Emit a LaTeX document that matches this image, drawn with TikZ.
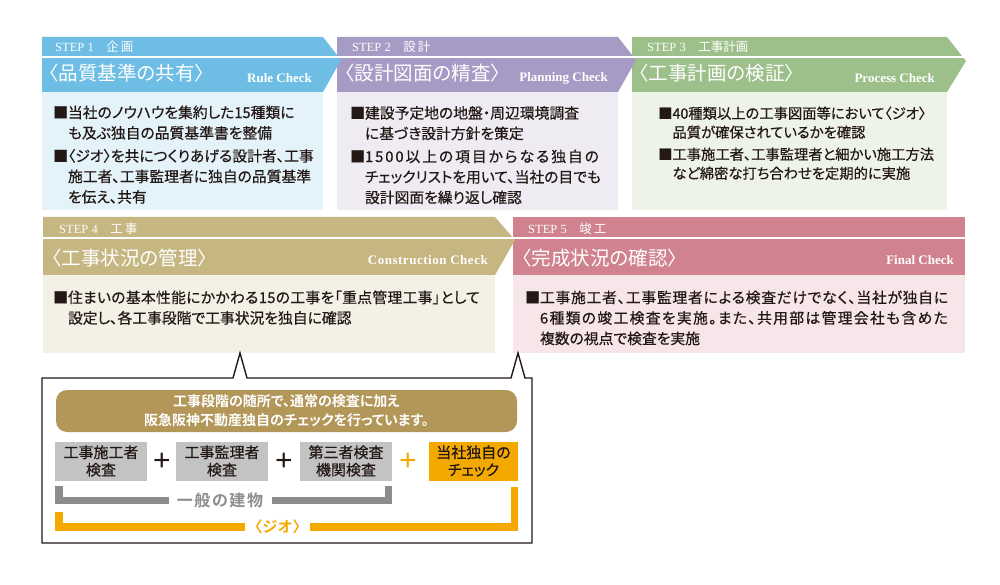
\documentclass[tikz,border=0pt]{standalone}
\usepackage{fontspec}
\newfontfamily\jp[RawFeature=+palt,BoldFont={Noto Sans CJK JP Bold}]{Noto Sans CJK JP}
\newfontfamily\jpbody[RawFeature=+palt,FakeBold=0.5]{Noto Sans CJK JP}
\newfontfamily\jpw[BoldFont={Noto Sans CJK JP Bold}]{Noto Sans CJK JP}
\newfontfamily\lser{Liberation Serif}
\newfontfamily\lsans{Liberation Sans}
\newcommand\bulind{\phantom{■}}
\newcommand\fstrut{\rule{0pt}{0.9em}}
\newcommand\spc[2]{{\addfontfeature{LetterSpace=#1}#2}}
\definecolor{hA}{HTML}{6DBDE4}\definecolor{bA}{HTML}{E4F2FA}
\definecolor{hB}{HTML}{A69BC5}\definecolor{bB}{HTML}{EEEBF3}
\definecolor{hC}{HTML}{9DC08A}\definecolor{bC}{HTML}{EEF3E8}
\definecolor{hD}{HTML}{C6B681}\definecolor{bD}{HTML}{F3F0E5}
\definecolor{hE}{HTML}{D0838E}\definecolor{bE}{HTML}{F6E5E9}
\definecolor{banner}{HTML}{B39759}
\definecolor{boxgray}{HTML}{C3C3C3}
\definecolor{brgray}{HTML}{8C8C8C}
\definecolor{jio}{HTML}{F3A900}
\definecolor{ink}{HTML}{231815}
\tikzset{
  gapline/.style={white,line width=2.4pt},
  steplbl/.style={text=white,inner sep=0,anchor=west,font=\lser\fontsize{12.5}{14}\selectfont},
  ttl/.style={text=white,inner sep=0,anchor=west,font=\jp\fontsize{19.5}{22}\selectfont},
  chk/.style={text=white,inner sep=0,anchor=east,font=\lser\bfseries\fontsize{13}{15}\selectfont},
  bodytxt/.style={inner sep=0,anchor=north west,align=left,text=ink,font=\jpbody\fontsize{14.8}{20.5}\selectfont},
  grbox/.style={fill=boxgray,minimum width=92pt,minimum height=39pt,inner sep=0,align=center,text=ink,font=\jpbody\fontsize{15}{17.5}\selectfont},
  orbox/.style={grbox,fill=jio,minimum width=89pt},
  plussign/.style={inner sep=0,font=\lsans\fontsize{30}{30}\selectfont},
  bracket/.style={line width=7.2pt},
}
\begin{document}
\begin{tikzpicture}[x=1pt,y=-1pt]
\useasboundingbox (0,0) rectangle (1000,585);
\fill[white] (0,0) rectangle (1000,585);
% ---------- row 1 headers (drawn right to left so tips overlay) ----------
\fill[hC] (632,37) -- (947,37) -- (966,61) -- (947,92) -- (632,92) -- cycle;
\draw[gapline] (632,57.2) -- (968,57.2);
\fill[hB] (337,37) -- (618,37) -- (636,60) -- (618,92) -- (337,92) -- cycle;
\draw[gapline] (337,57.2) -- (638,57.2);
\fill[hA] (42,37) -- (323,37) -- (341,60) -- (323,92) -- (42,92) -- cycle;
\draw[gapline] (42,57.2) -- (343,57.2);
% bodies
\fill[bA] (42,92) rectangle (323,210);
\fill[bB] (337,92) rectangle (618,210);
\fill[bC] (632,92) rectangle (947,210);
% ---------- row 2 ----------
\fill[hE] (513,217) rectangle (965,275);
\draw[gapline] (513,238) -- (965,238);
\fill[hD] (43,217) -- (495,217) -- (515,240) -- (495,275) -- (43,275) -- cycle;
\draw[gapline] (43,238) -- (517,238);
\fill[bD] (43,275) rectangle (495,353);
\fill[bE] (513,275) rectangle (965,353);
% ---------- header texts ----------
\node[steplbl] (s1) at (55,47) {STEP 1\hspace{1em}{\jp 企\,画}};
\node[ttl] (t1) at (49,73) {〈品質基準の共有〉};
\node[chk] (c1) at (312,78) {Rule Check};
\node[steplbl] (s2) at (352,47) {STEP 2\hspace{1em}{\jp 設\,計}};
\node[ttl] (t2) at (345,73) {〈設計図面の精査〉};
\node[chk] (c2) at (608,78) {Planning Check};
\node[steplbl] (s3) at (647,47) {STEP 3\hspace{1em}{\jp 工事計画}};
\node[ttl] (t3) at (639,73) {〈工事計画の検証〉};
\node[chk] (c3) at (935,78) {Process Check};
\node[steplbl] (s4) at (59,229) {STEP 4\hspace{1em}{\jp 工\,事}};
\node[ttl] (t4) at (52,258) {〈工事状況の管理〉};
\node[chk] (c4) at (488,260) {\addfontfeature{LetterSpace=4}Construction Check};
\node[steplbl] (s5) at (528,229) {STEP 5\hspace{1em}{\jp 竣\,工}};
\node[ttl] (t5) at (522,258) {〈完成状況の確認〉};
\node[chk] (c5) at (954,260) {Final Check};
% ---------- body texts ----------
\node[bodytxt] (p1) at (53,104.5) {\fstrut■当社のノウハウを集約した15種類に\\
\bulind も及ぶ独自の品質基準書を整備\\[2.5pt]
■〈ジオ〉を共につくりあげる設計者、工事\\
\bulind 施工者、工事監理者に独自の品質基準\\
\bulind を伝え、共有};
\node[bodytxt] (p2) at (350,105) {\fstrut■建設予定地の地盤・周辺環境調査\\
\bulind に基づき設計方針を策定\\[2.5pt]
■\spc{13}{1500以上の項目からなる独自の}\\
\bulind チェックリストを用いて、当社の目でも\\
\bulind 設計図面を繰り返し確認};
\node[bodytxt,font=\jpbody\fontsize{14.3}{19}\selectfont] (p3) at (658,105.6) {\fstrut■40種類以上の工事図面等において〈ジオ〉\\
\bulind 品質が確保されているかを確認\\[3pt]
■工事施工者、工事監理者と細かい施工方法\\
\bulind など綿密な打ち合わせを定期的に実施};
\node[bodytxt] (p4) at (53,289.5) {\fstrut■\spc{2}{住まいの基本性能にかかわる15の工事を「重点管理工事」として}\\
\bulind 設定し、各工事段階で工事状況を独自に確認};
\node[bodytxt] (p5) at (525,289.5) {\fstrut■\spc{5}{工事施工者、工事監理者による検査だけでなく、当社が独自に}\\
\bulind \spc{9}{6種類の竣工検査を実施。また、共用部は管理会社も含めた}\\
\bulind 複数の視点で検査を実施};
% ---------- callout ----------
\draw[ink,line width=1.4pt,line join=miter,fill=white] (42,378) -- (233,378) -- (240,353) -- (247,378)
  -- (511,378) -- (518,353) -- (525,378) -- (532,378) -- (532,543) -- (42,543) -- cycle;
\node[fill=banner,rounded corners=11pt,minimum width=461pt,minimum height=42pt,inner sep=0,
  align=center,text=white,font=\jp\bfseries\fontsize{14}{19}\selectfont] (bn) at (286.5,411)
  {工事段階の随所で、通常の検査に加え\\阪急阪神不動産独自のチェックを行っています。};
\node[grbox] (g1) at (101,461) {工事施工者\\検査};
\node[grbox] (g2) at (222,461) {工事監理者\\検査};
\node[grbox] (g3) at (346,461) {第三者検査\\機関検査};
\node[orbox] (g4) at (473.5,461) {当社独自の\\チェック};
\node[plussign,text=ink] (pl1) at (162,462) {+};
\node[plussign,text=ink] (pl2) at (284,462) {+};
\node[plussign,text=jio] (pl3) at (408,462) {+};
% brackets
\node[inner sep=0,text=brgray,font=\jp\bfseries\fontsize{16}{18}\selectfont] (ip) at (220,500.5)
  {\addfontfeature{LetterSpace=10}一般の建物};
\draw[bracket,brgray] (59,486) -- (59,500.5) -- (169,500.5);
\draw[bracket,brgray] (272,500.5) -- (388.5,500.5) -- (388.5,486);
\node[inner sep=0,text=jio,font=\jpw\bfseries\fontsize{15}{17}\selectfont] (jo) at (277.5,527) {〈ジオ〉};
\draw[bracket,jio] (59,512) -- (59,527) -- (245,527);
\draw[bracket,jio] (310,527) -- (514.5,527) -- (514.5,487);
\end{tikzpicture}
\end{document}
